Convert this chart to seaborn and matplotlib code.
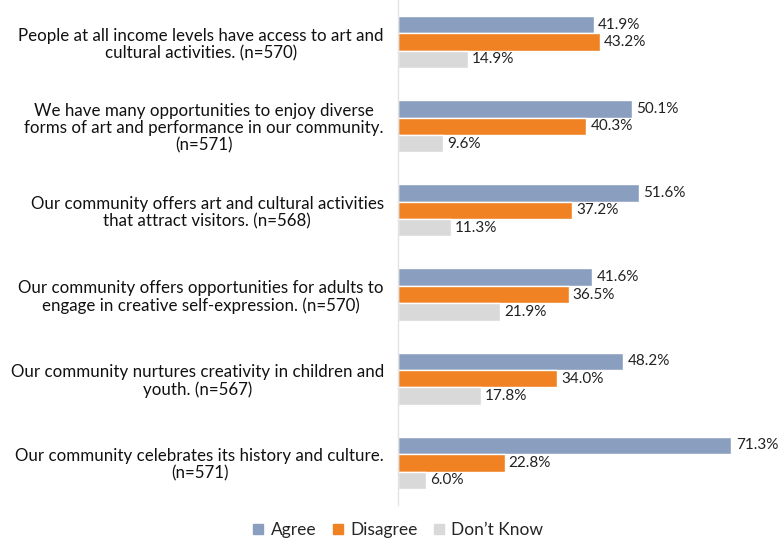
import pandas as pd
import matplotlib
matplotlib.use('Agg')
import matplotlib.pyplot as plt
import seaborn as sns

statements = [
    "People at all income levels have access to art and\ncultural activities. (n=570)",
    "We have many opportunities to enjoy diverse\nforms of art and performance in our community.\n(n=571)",
    "Our community offers art and cultural activities\nthat attract visitors. (n=568)",
    "Our community offers opportunities for adults to\nengage in creative self-expression. (n=570)",
    "Our community nurtures creativity in children and\nyouth. (n=567)",
    "Our community celebrates its history and culture.\n(n=571)",
]
agree = [41.9, 50.1, 51.6, 41.6, 48.2, 71.3]
disagree = [43.2, 40.3, 37.2, 36.5, 34.0, 22.8]
dont_know = [14.9, 9.6, 11.3, 21.9, 17.8, 6.0]
responses = ["Agree", "Disagree", "Don\u2019t Know"]
colors = ["#8A9FBF", "#F08223", "#D9D9D9"]

df = pd.DataFrame({
    "statement": statements * 3,
    "response": [r for r in responses for _ in statements],
    "pct": agree + disagree + dont_know,
})

sns.set_style("white")
plt.rcParams['font.family'] = ['Lato', 'DejaVu Sans']

fig = plt.figure(figsize=(7.8, 5.4), dpi=100)
ax = fig.add_axes([0.51, 0.065, 0.48, 0.935])

sns.barplot(data=df, y="statement", x="pct", hue="response", order=statements,
            hue_order=responses, palette=colors, width=0.62, orient="h",
            saturation=1, ax=ax, legend=False)

for cont in ax.containers:
    ax.bar_label(cont, labels=[f"{v:.1f}%" for v in cont.datavalues],
                 padding=3, fontsize=11, color="#222222")

ax.set_xlim(0, 80)
ax.set_ylim(5.5, -0.5)
ax.set_xlabel("")
ax.set_ylabel("")
ax.set_xticks([])
ax.tick_params(axis="y", length=0, pad=10, labelsize=12.2, labelcolor="#111111")
for lab in ax.get_yticklabels():
    lab.set_multialignment("center")
    lab.set_linespacing(1.1)

for side in ["top", "right", "bottom"]:
    ax.spines[side].set_visible(False)
ax.spines["left"].set_color("#E3E3E3")
ax.spines["left"].set_linewidth(1)

handles = [plt.Line2D([], [], marker="s", linestyle="", markersize=7,
                      markerfacecolor=c, markeredgecolor=c) for c in colors]
fig.legend(handles, responses, loc="center", bbox_to_anchor=(0.51, 0.018),
           ncol=3, frameon=False, fontsize=12.5, handlelength=0.7,
           handletextpad=0.35, columnspacing=0.9)

fig.savefig("out.png", dpi=100)
